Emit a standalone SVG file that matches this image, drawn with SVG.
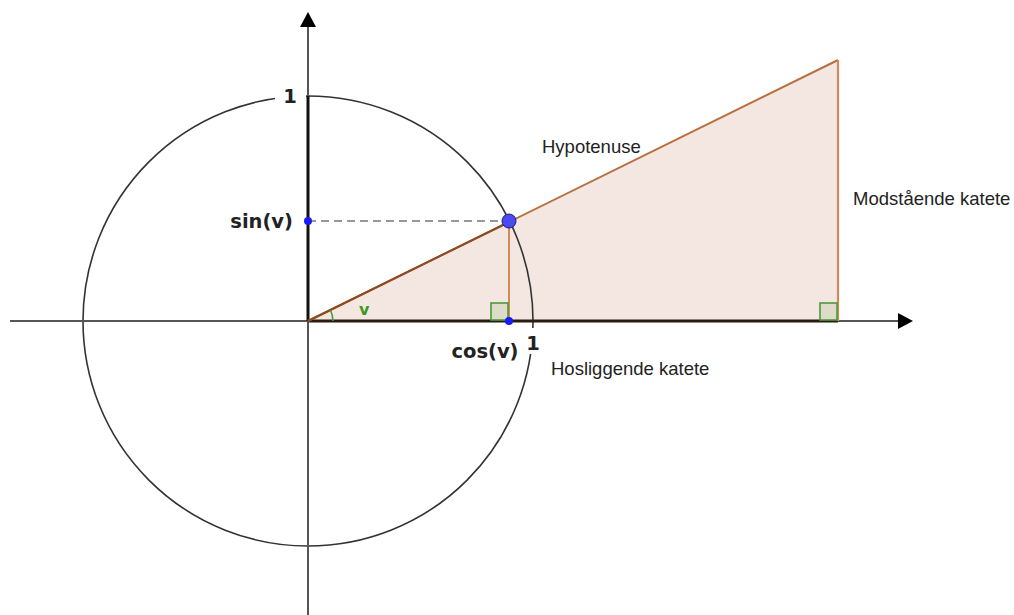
<svg xmlns="http://www.w3.org/2000/svg" width="1014" height="615" viewBox="0 0 1014 615">
<defs>
<style>
.axis{stroke:#555;stroke-width:2;fill:none}
.lbl{font-family:"Liberation Sans",Arial,sans-serif;font-size:18.5px;fill:#222}
.math{font-family:"DejaVu Sans",sans-serif;font-weight:bold;font-size:19.5px;fill:#222}
.ra{fill:#dcdcc8;stroke:#4a9a3a;stroke-width:1.6}
</style>
</defs>
<rect width="1014" height="615" fill="#fff"/>
<g id="triangle">
<polygon points="308,321 838,60 838,321" fill="#f4e6e1"/>
</g>
<g id="circle">
<circle cx="308" cy="321" r="225" fill="none" stroke="#333" stroke-width="1.6"/>
</g>
<g id="axes">
<line class="axis" x1="10" y1="321" x2="900" y2="321"/>
<polygon points="913,321 898,313 898,329" fill="#000"/>
<line class="axis" x1="308" y1="615" x2="308" y2="26"/>
<polygon points="308,12 300,27 316,27" fill="#000"/>
</g>
<g id="connectors">
<line x1="308" y1="321" x2="308" y2="96" stroke="#111" stroke-width="3"/>
<line x1="308" y1="321" x2="838" y2="321" stroke="#2a1a10" stroke-width="3"/>
<line x1="308" y1="221" x2="509" y2="221" stroke="#777" stroke-width="1.6" stroke-dasharray="8,5"/>
<line x1="308" y1="321" x2="838" y2="60" stroke="#b8703f" stroke-width="2"/>
<line x1="308" y1="321" x2="509" y2="222" stroke="#8a4a22" stroke-width="2"/>
<line x1="509" y1="221" x2="509" y2="321" stroke="#d28a5a" stroke-width="2"/>
<line x1="838" y1="60" x2="838" y2="321" stroke="#d28a5a" stroke-width="2.2"/>
</g>
<g id="right-angles">
<rect class="ra" x="491" y="303" width="17" height="17"/>
<rect class="ra" x="820" y="303" width="17" height="17"/>
</g>
<g id="angle">
<path d="M333,321 A25,25 0 0 0 330.4,310" fill="none" stroke="#4a9a3a" stroke-width="1.6"/>
<text x="359" y="315" font-family="DejaVu Sans,sans-serif" font-weight="bold" font-size="16" fill="#3a9a1a">v</text>
</g>
<g id="labels">
<rect x="275" y="84" width="31" height="24" fill="#fff"/>
<text class="math" x="290" y="103" text-anchor="middle" font-family="DejaVu Serif,serif">1</text>
<rect x="522" y="328" width="21" height="26" fill="#fff"/>
<text class="math" x="533" y="350" text-anchor="middle" font-family="DejaVu Serif,serif">1</text>
<text class="math" x="293" y="228" text-anchor="end">sin(v)</text>
<text class="math" x="485" y="358" text-anchor="middle">cos(v)</text>
<text class="lbl" x="542" y="153">Hypotenuse</text>
<text class="lbl" x="853" y="205">Modstående katete</text>
<text class="lbl" x="551" y="375">Hosliggende katete</text>
</g>
<g id="points">
<circle cx="308" cy="221" r="4" fill="#1a1aff"/>
<circle cx="509" cy="321" r="4" fill="#1a1aff"/>
<circle cx="509" cy="221" r="7" fill="#4a4af0" stroke="#1a1a80" stroke-width="1"/>
</g>
</svg>
